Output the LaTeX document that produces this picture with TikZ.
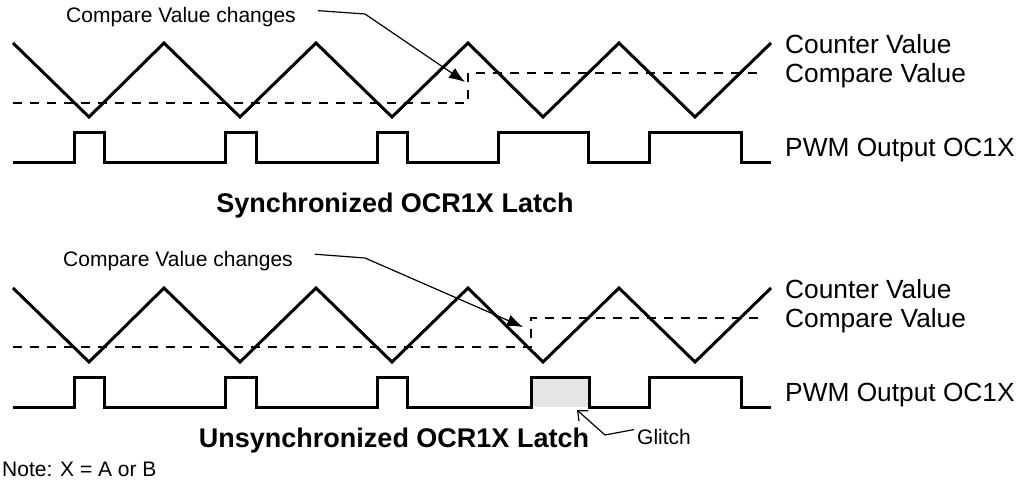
\documentclass[tikz,border=0pt]{standalone}
\usepackage{fontspec}
\setmainfont{Liberation Sans}
\usetikzlibrary{arrows.meta}

\tikzset{
  wave/.style={line width=3pt, line join=miter},
  cmpline/.style={line width=1.4pt, dash pattern=on 9pt off 8pt},
  callout/.style={line width=1.2pt, -{Latex[length=16pt,width=12pt]}},
  glitcharrow/.style={line width=1.2pt, -{Straight Barb[length=8pt,width=14pt]}},
  sigtext/.style={anchor=base west, inner sep=0pt, font=\fontsize{26.3}{30}\selectfont},
  notetext/.style={anchor=base west, inner sep=0pt, font=\fontsize{21}{25}\selectfont},
  titletext/.style={anchor=base, inner sep=0pt, font=\fontsize{27}{32}\selectfont\bfseries},
}

\begin{document}
\begin{tikzpicture}[x=1pt, y=-1pt]
  \useasboundingbox (0,0) rectangle (1020,496);

  % Synchronized latch
  \coordinate (topbend) at (365,14);
  \coordinate (toptip) at (465,82);

  \draw[wave] (13,43) -- (89,117) -- (164,43) -- (240,117) -- (316,43) -- (392,117)
    -- (468,43) -- (543,117) -- (619,43) -- (695,117) -- (771,43);
  \draw[cmpline] (13,103) -- (468,103) -- (468,73) -- (762,73);
  \draw[wave] (13,162) -- (74,162) -- (74,132) -- (104,132) -- (104,162)
    -- (225,162) -- (225,132) -- (256,132) -- (256,162)
    -- (377,162) -- (377,132) -- (407,132) -- (407,162)
    -- (498,162) -- (498,132) -- (588,132) -- (588,162)
    -- (649,162) -- (649,132) -- (741,132) -- (741,162) -- (771,162);

  \node[notetext] (topchange) at (66,22.5) {Compare Value changes};
  \draw[callout, shorten <=22pt] (topchange.east) ++(0,-8) -- (topbend) -- (toptip);

  \node[sigtext] (topcounter) at (785,53) {Counter Value};
  \node[sigtext] (topcompare) at (785,82) {Compare Value};
  \node[sigtext] (toppwm) at (785,156) {PWM Output OC1X};
  \node[titletext] (toptitle) at (395,212) {Synchronized OCR1X Latch};

  % Unsynchronized latch
  \begin{scope}[shift={(0,245)}]
    \coordinate (botbend) at (365,13);
    \coordinate (bottip) at (523,82);
    \coordinate (glitchtip) at (577,165);
    \coordinate (glitchknee) at (605,190);

    \fill[gray!20] (531,132) rectangle (589,162);
    \draw[wave] (13,43) -- (89,117) -- (164,43) -- (240,117) -- (316,43) -- (392,117)
      -- (468,43) -- (543,117) -- (619,43) -- (695,117) -- (771,43);
    \draw[cmpline] (13,102) -- (531,102) -- (531,73) -- (762,73);
    \draw[wave] (13,162) -- (74,162) -- (74,132) -- (104,132) -- (104,162)
      -- (225,162) -- (225,132) -- (256,132) -- (256,162)
      -- (377,162) -- (377,132) -- (407,132) -- (407,162)
      -- (531,162) -- (531,132) -- (589,132) -- (589,162)
      -- (649,162) -- (649,132) -- (741,132) -- (741,162) -- (771,162);

    \node[notetext] (botchange) at (63,21) {Compare Value changes};
    \draw[callout, shorten <=22pt] (botchange.east) ++(0,-8) -- (botbend) -- (bottip);

    \node[sigtext] (botcounter) at (785,53) {Counter Value};
    \node[sigtext] (botcompare) at (785,82) {Compare Value};
    \node[sigtext] (botpwm) at (785,156) {PWM Output OC1X};
    \node[titletext] (bottitle) at (394,202) {Unsynchronized OCR1X Latch};

    \node[notetext] (glitch) at (637,199.5) {Glitch};
    \draw[glitcharrow, shorten <=3pt] (glitch.west) ++(0,-8) -- (glitchknee) -- (glitchtip);
  \end{scope}

  \node[notetext] (note) at (2,476) {Note: X = A or B};
\end{tikzpicture}
\end{document}
